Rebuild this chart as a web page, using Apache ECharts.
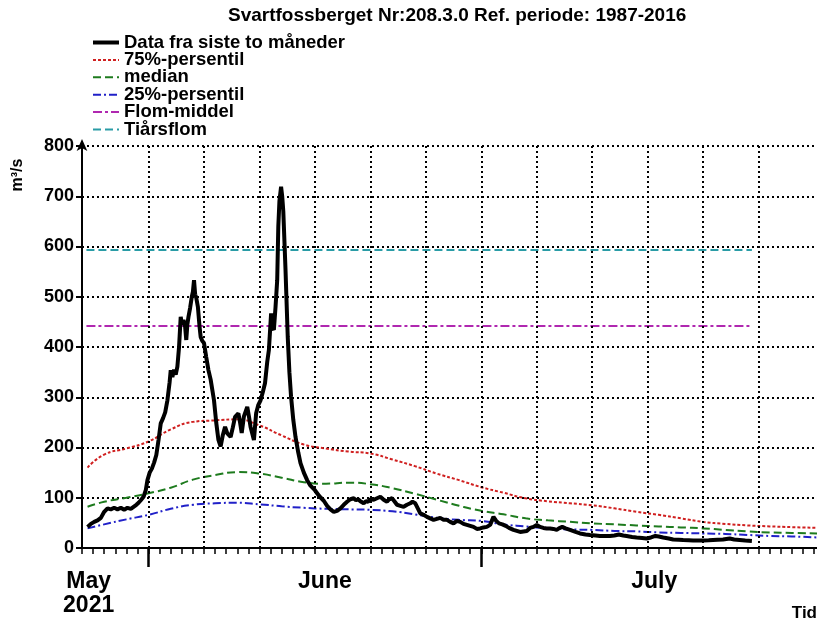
<!DOCTYPE html>
<html>
<head>
<meta charset="utf-8">
<script src="https://cdn.jsdelivr.net/npm/echarts@6/dist/echarts.min.js"></script>
<style>
  html, body { margin: 0; padding: 0; background: #fff; }
  #chart { width: 817px; height: 626px; }
</style>
</head>
<body>
<div id="chart"></div>
<script>
// day 0 = 1 June 2021
const obsDays = [-5.5, -5.2, -4.9, -4.6, -4.3, -4.0, -3.7, -3.4, -3.1, -2.8, -2.5, -2.2, -1.9, -1.6, -1.35, -1.1, -0.9, -0.7, -0.45, -0.25,
  -0.1, 0.1, 0.3, 0.5, 0.7, 0.9, 1.1, 1.3, 1.5, 1.7, 1.9, 2.0, 2.15, 2.3, 2.45, 2.6, 2.75, 2.9, 3.0, 3.15,
  3.3, 3.4, 3.5, 3.6, 3.75, 3.9, 4.0, 4.1, 4.2, 4.3, 4.45, 4.6, 4.7, 4.85, 5.0, 5.2, 5.4, 5.6, 5.9, 6.1,
  6.3, 6.5, 6.7, 6.9, 7.1, 7.4, 7.6, 7.8, 8.1, 8.25, 8.4, 8.6, 8.9, 9.05, 9.2, 9.35, 9.5, 9.7, 9.9, 10.1,
  10.3, 10.5, 10.7, 10.85, 11.05, 11.15, 11.3, 11.45, 11.6, 11.7, 11.8, 11.95, 12.05, 12.15, 12.35, 12.55, 12.7, 12.85, 13.05, 13.25,
  13.5, 13.7, 14.0, 14.3, 14.6, 15.0, 15.4, 15.8, 16.1, 16.4, 16.7, 17.0, 17.3, 17.6, 17.9, 18.2, 18.5, 18.7, 18.9, 19.1,
  19.4, 19.6, 19.8, 20.0, 20.3, 20.6, 20.9, 21.2, 21.5, 21.7, 21.95, 22.2, 22.4, 22.7, 23.0, 23.3, 23.6, 23.8, 24.05, 24.3,
  24.5, 24.8, 25.1, 25.4, 25.7, 26.0, 26.3, 26.6, 26.9, 27.2, 27.5, 27.8, 28.1, 28.4, 28.7, 29.0, 29.3, 29.6, 29.9, 30.2,
  30.5, 30.8, 31.1, 31.35, 31.6, 31.9, 32.2, 32.5, 32.9, 33.2, 33.5, 33.8, 34.1, 34.4, 34.7, 35.0, 35.3, 35.6, 35.9, 36.2,
  36.5, 36.8, 37.0, 37.3, 37.6, 38.0, 38.5, 38.9, 39.4, 39.8, 40.3, 40.7, 41.2, 41.6, 42.0, 42.4, 42.8, 43.1, 43.6, 44.0,
  44.5, 44.9, 45.3, 45.7, 46.0, 46.4, 46.9, 47.3, 47.8, 48.2, 48.7, 49.1, 49.6, 50.0, 50.5, 50.9, 51.3, 51.8, 52.1, 52.4,
  52.8, 53.3, 53.8, 54.4];
const obsFlow = [42, 48, 52, 55, 60, 72, 79, 77, 80, 77, 80, 76, 80, 78, 82, 86, 90, 95, 102, 115,
  135, 150, 158, 170, 185, 215, 248, 258, 270, 294, 330, 354, 340, 355, 345, 361, 400, 460, 445, 454,
  440, 414, 445, 460, 478, 500, 510, 533, 505, 498, 480, 440, 420, 412, 408, 380, 354, 335, 294, 250,
  215, 202, 225, 241, 228, 221, 240, 261, 268, 250, 229, 262, 281, 262, 241, 228, 215, 268, 285, 294,
  310, 328, 370, 394, 467, 440, 434, 480, 533, 640, 690, 719, 700, 670, 553, 420, 350, 301, 255, 221,
  190, 169, 150, 135, 124, 115, 103, 94, 84, 77, 72, 74, 79, 86, 92, 97, 99, 95, 97, 93,
  89, 93, 92, 97, 96, 99, 102, 96, 92, 97, 99, 92, 86, 84, 82, 86, 89, 92, 89, 78,
  69, 66, 62, 59, 56, 58, 60, 56, 56, 52, 49, 54, 52, 48, 46, 44, 42, 38, 39, 41,
  42, 46, 62, 54, 49, 47, 44, 40, 36, 34, 32, 33, 34, 40, 42, 46, 42, 40, 39, 39,
  38, 36, 39, 42, 39, 36, 32, 29, 27, 26, 25, 24, 24, 24, 25, 27, 25, 24, 22, 21,
  20, 19, 21, 24, 23, 21, 19, 17, 16.5, 16, 15.5, 15, 15, 15, 15.5, 16, 16.5, 17, 18, 19,
  17, 16, 15, 14];

const refDays = [-5.5, -4, -2, 0, 2, 4, 6, 8, 10, 12, 14, 16, 18, 20, 22, 24, 26, 28, 30, 32,
  34, 36, 38, 40, 42, 44, 46, 48, 50, 52, 54, 56, 58, 60.3];
const p75 = [160, 186, 198, 212, 236, 251, 254, 256, 244, 224, 206, 198, 192, 188, 176, 163, 148, 135, 121, 110,
  99, 93, 89, 85, 79, 72, 66, 59, 52, 48, 45, 43, 41.5, 40];
const median = [82, 92, 100, 109, 120, 136, 145, 151, 148, 140, 131, 128, 130, 127, 119, 108, 96, 84, 74, 67,
  59, 55, 52, 49, 47, 45, 43, 41, 39, 36, 33, 31, 30, 29];
const p25 = [39, 47, 57, 66, 78, 86, 89, 90, 87, 83, 80, 78, 77, 76, 73, 67, 60, 56, 54, 47,
  43, 39, 37, 36, 34, 33, 31, 30, 29, 28, 26, 24, 23, 21];

const floodDays = [-5.6, 54.4];
const floodMean = [442, 442];
const tenYearFlood = [593, 593];

const gridDays = [0, 5, 10, 15, 20, 25, 30, 35, 40, 45, 50, 55];
const monthStartDays = [0, 30];
const monthLabelDays = [-5.4, 15.9, 45.6];
const monthLabels = ['May\n2021', 'June', 'July'];

const X_MIN = -6;
const X_MAX = 60.27;
const dayTicks = [];
for (let d = X_MIN; d <= X_MAX; d += 1) dayTicks.push(d);

const FONT = 'Liberation Sans';
const zip = (xs, ys) => xs.map((x, i) => [x, ys[i]]);

const chart = echarts.init(document.getElementById('chart'));
chart.setOption({
  animation: false,
  backgroundColor: '#fff',
  title: {
    text: 'Svartfossberget Nr:208.3.0 Ref. periode: 1987-2016',
    left: 228,
    top: 6,
    padding: 0,
    textStyle: { fontFamily: FONT, fontSize: 19, fontWeight: 'bold', color: '#000' },
  },
  legend: {
    orient: 'vertical',
    left: 91,
    top: 33,
    padding: 0,
    itemGap: -1.6,
    itemWidth: 26,
    itemHeight: 12,
    itemStyle: { opacity: 0 },
    data: [
      { name: 'Data fra siste to måneder', lineStyle: { width: 4 } },
      { name: '75%-persentil', lineStyle: { width: 2 } },
      { name: 'median', lineStyle: { width: 2 } },
      { name: '25%-persentil', lineStyle: { width: 2 } },
      { name: 'Flom-middel', lineStyle: { width: 2 } },
      { name: 'Tiårsflom', lineStyle: { width: 2 } },
    ],
    textStyle: { fontFamily: FONT, fontSize: 18.5, fontWeight: 'bold', color: '#000' },
  },
  graphic: [
    {
      type: 'text', x: 18, y: 175, rotation: Math.PI / 2,
      style: { text: 'm³/s', font: 'bold 16px "Liberation Sans"', fill: '#000', align: 'center', verticalAlign: 'middle' },
    },
    {
      type: 'text', right: 0, top: 605,
      style: { text: 'Tid', font: 'bold 17px "Liberation Sans"', fill: '#000' },
    },
  ],
  grid: { left: 82, right: 0, top: 146, bottom: 78 },
  xAxis: [
    {
      // axis line and the daily ticks
      type: 'value', min: X_MIN, max: X_MAX,
      axisLine: { show: true, onZero: false, lineStyle: { color: '#000', width: 2 } },
      axisTick: { show: true, length: 6, customValues: dayTicks, lineStyle: { color: '#000', width: 1.5 } },
      axisLabel: { show: false },
      splitLine: { show: false },
    },
    {
      // month boundaries and month names
      type: 'value', min: X_MIN, max: X_MAX, position: 'bottom',
      axisLine: { show: false, onZero: false },
      axisTick: { show: true, length: 19, customValues: monthStartDays, lineStyle: { color: '#000', width: 2.5 } },
      axisLabel: {
        show: true,
        customValues: monthLabelDays,
        margin: 22,
        fontFamily: FONT, fontSize: 23, fontWeight: 'bold', color: '#000', lineHeight: 24,
        formatter: (v) => {
          let best = 0;
          monthLabelDays.forEach((d, i) => { if (Math.abs(d - v) < Math.abs(monthLabelDays[best] - v)) best = i; });
          return monthLabels[best];
        },
      },
      splitLine: { show: false },
    },
  ],
  yAxis: {
    type: 'value', min: 0, max: 800, interval: 100,
    axisLine: {
      show: true, onZero: false, lineStyle: { color: '#000', width: 2 },
      symbol: ['none', 'arrow'], symbolSize: [8, 12], symbolOffset: [0, 7],
    },
    axisTick: { show: true, length: 6, lineStyle: { color: '#000', width: 2 } },
    axisLabel: { margin: 8, fontFamily: FONT, fontSize: 18, fontWeight: 'bold', color: '#000' },
    splitLine: { show: true, lineStyle: { color: '#000', width: 2, type: [2, 3] } },
  },
  series: [
    {
      name: 'grid', type: 'line', data: [], z: 1, silent: true,
      markLine: {
        silent: true, symbol: 'none', label: { show: false },
        lineStyle: { color: '#000', width: 2, type: [2, 3] },
        emphasis: { disabled: true },
        data: gridDays.map((d) => ({ xAxis: d })),
      },
    },
    {
      name: '75%-persentil', type: 'line', data: zip(refDays, p75), smooth: true, symbol: 'none', z: 3,
      lineStyle: { color: '#d02020', width: 2, type: [3, 2] }, itemStyle: { color: '#d02020' },
    },
    {
      name: 'median', type: 'line', data: zip(refDays, median), smooth: true, symbol: 'none', z: 3,
      lineStyle: { color: '#1e7b1e', width: 2, type: [8, 4] }, itemStyle: { color: '#1e7b1e' },
    },
    {
      name: '25%-persentil', type: 'line', data: zip(refDays, p25), smooth: true, symbol: 'none', z: 3,
      lineStyle: { color: '#2020c8', width: 2, type: [8, 3, 2, 3] }, itemStyle: { color: '#2020c8' },
    },
    {
      name: 'Flom-middel', type: 'line', data: zip(floodDays, floodMean), symbol: 'none', z: 3,
      lineStyle: { color: '#b028b0', width: 2, type: [9, 3, 3, 3] }, itemStyle: { color: '#b028b0' },
    },
    {
      name: 'Tiårsflom', type: 'line', data: zip(floodDays, tenYearFlood), symbol: 'none', z: 3,
      lineStyle: { color: '#2a9ca6', width: 2, type: [8, 4] }, itemStyle: { color: '#2a9ca6' },
    },
    {
      name: 'Data fra siste to måneder', type: 'line', data: zip(obsDays, obsFlow), symbol: 'none', z: 5,
      lineStyle: { color: '#000', width: 4 }, itemStyle: { color: '#000' },
    },
  ],
});
</script>
</body>
</html>
